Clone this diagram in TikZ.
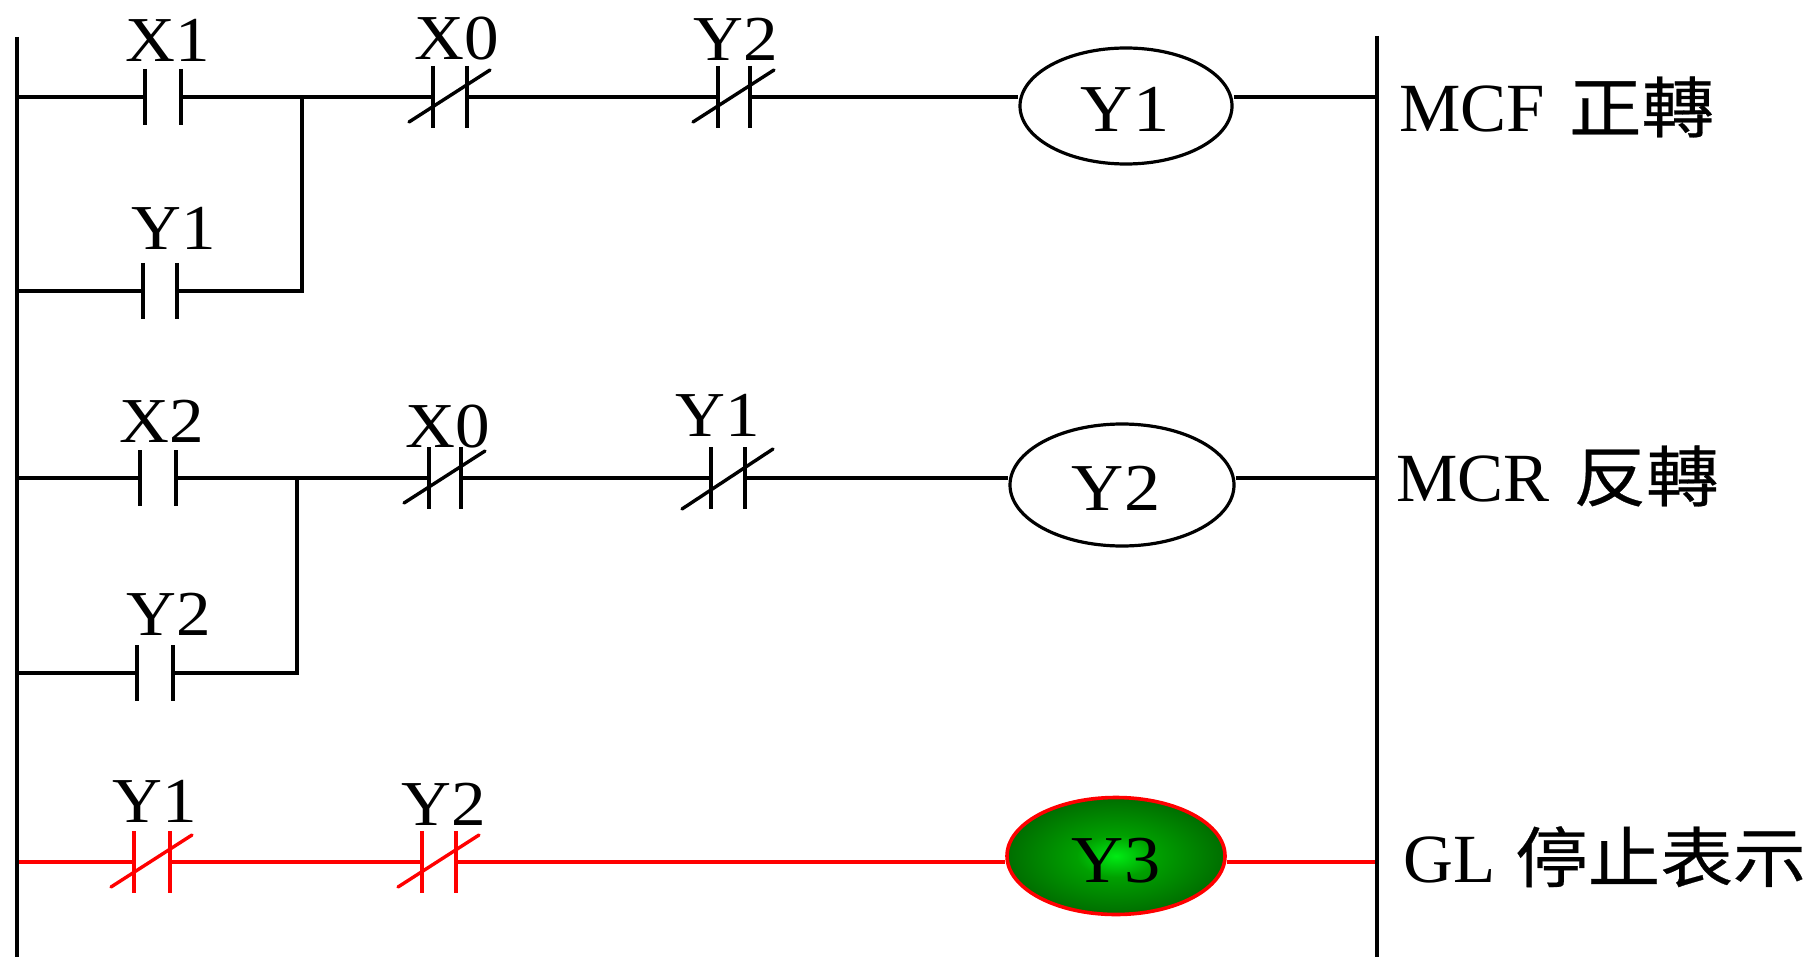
\documentclass[tikz,border=0pt]{standalone}
\usepackage{fontspec}
\setmainfont{Liberation Serif}
\newfontfamily\labfont{Liberation Serif}[FakeStretch=1.08]
\newfontfamily\cjk{Noto Sans CJK TC}[FakeStretch=1.1,FakeBold=0.4]
\usetikzlibrary{shapes.geometric}
\definecolor{glowA}{RGB}{0,235,20}
\definecolor{glowB}{RGB}{0,160,0}
\definecolor{glowC}{RGB}{0,100,0}
\definecolor{glowD}{RGB}{0,20,0}
\definecolor{rungred}{RGB}{255,0,0}
\pgfdeclareradialshading{coilglow}{\pgfpoint{0bp}{0bp}}{color(0bp)=(glowA); color(9bp)=(glowB); color(28bp)=(glowC); color(50bp)=(glowD)}
\tikzset{
  wire/.style={line width=3.4pt},
  plate/.style={line width=3.4pt},
  slash/.style={line width=3.4pt, line cap=round},
  lab/.style={font=\labfont\fontsize{64}{64}\selectfont, inner sep=0pt, anchor=base},
  coiltext/.style={font=\labfont\fontsize{67}{67}\selectfont, inner sep=0pt, anchor=base},
  side/.style={font=\fontsize{69}{69}\selectfont, inner sep=0pt, anchor=base west},
  coil/.style={ellipse, draw, line width=3.2pt, inner sep=0pt},
  pics/nocon/.style={code={
    \draw[plate] (-#1,-28) -- (-#1,28);
    \draw[plate] (#1,-28) -- (#1,28);
    \coordinate (-l) at (-#1,0);
    \coordinate (-r) at (#1,0);}},
  pics/nccon/.style={code={
    \draw[plate] (-#1,-31) -- (-#1,31);
    \draw[plate] (#1,-31) -- (#1,31);
    \draw[slash] (-41,25) -- (40,-27);
    \coordinate (-l) at (-#1,0);
    \coordinate (-r) at (#1,0);}},
  pics/ncconwide/.style={code={
    \draw[plate] (-#1,-31) -- (-#1,31);
    \draw[plate] (#1,-31) -- (#1,31);
    \draw[slash] (-46,31) -- (45,-29);
    \coordinate (-l) at (-#1,0);
    \coordinate (-r) at (#1,0);}},
}
\begin{document}
\begin{tikzpicture}[x=1pt,y=-1pt]
\useasboundingbox (0,0) rectangle (1819,957);
% rails
\coordinate (Ltop) at (17,37);
\coordinate (Lbot) at (17,957);
\coordinate (Rtop) at (1377,36);
\coordinate (Rbot) at (1377,957);

% ---------- rung 1 ----------
\pic (a1) at (163,97) {nocon=18};
\pic (a2) at (450,97) {nccon=17};
\pic (a3) at (734,97) {nccon=16};
\pic (a4) at (160,291) {nocon=17};
\node[coil, minimum width=212pt, minimum height=116pt] (Y1c) at (1126,106) {};
\coordinate (j1) at (302,97);
\draw[wire] (a1-l -| Ltop) -- (a1-l);
\draw[wire] (a1-r) -- (a2-l);
\draw[wire] (a2-r) -- (a3-l);
\draw[wire] (a3-r) -- (a3-r -| Y1c.west);
\draw[wire] (a3-r -| Y1c.east) -- (a3-r -| Rtop);
\draw[wire] (j1) |- (a4-r);
\draw[wire] (a4-l) -- (a4-l -| Ltop);
\node[lab] (tX1) at (168,62) {X1};
\node[lab] (tX0a) at (457,60) {X0};
\node[lab] (tY2a) at (736,61) {Y2};
\node[lab] (tY1b) at (174,250) {Y1};
\node[coiltext] (tY1c) at (1125,132) {Y1};
\node[side] (sMCF) at (1399,132) {MCF\hspace{24pt}{\cjk\fontsize{66}{66}\selectfont 正轉}};

% ---------- rung 2 ----------
\pic (b1) at (158,478) {nocon=18};
\pic (b2) at (445,478) {nccon=16};
\pic (b3) at (728,478) {ncconwide=17};
\pic (b4) at (155,673) {nocon=18};
\node[coil, minimum width=224pt, minimum height=122pt] (Y2c) at (1122,485) {};
\coordinate (j2) at (297,478);
\draw[wire] (b1-l -| Ltop) -- (b1-l);
\draw[wire] (b1-r) -- (b2-l);
\draw[wire] (b2-r) -- (b3-l);
\draw[wire] (b3-r) -- (b3-r -| Y2c.west);
\draw[wire] (b3-r -| Y2c.east) -- (b3-r -| Rtop);
\draw[wire] (j2) |- (b4-r);
\draw[wire] (b4-l) -- (b4-l -| Ltop);
\node[lab] (tX2) at (162,442) {X2};
\node[lab] (tX0b) at (448,447) {X0};
\node[lab] (tY1r2) at (718,436) {Y1};
\node[lab] (tY2b) at (169,635) {Y2};
\node[coiltext] (tY2c) at (1116,510) {Y2};
\node[side] (sMCR) at (1396,501) {MCR\hspace{24pt}{\cjk\fontsize{66}{66}\selectfont 反轉}};

% ---------- rung 3 (red) ----------
\begin{scope}[color=rungred]
\pic (c1) at (152,862) {nccon=18};
\pic (c2) at (439,862) {nccon=17};
\end{scope}
\node[coil, draw=rungred, line width=3.6pt, shade, shading=coilglow, minimum width=218pt, minimum height=117pt] (Y3c) at (1116,856) {};
\draw[wire, rungred, line width=4.2pt] (c1-l -| Ltop) -- (c1-l);
\draw[wire, rungred, line width=4.2pt] (c1-r) -- (c2-l);
\draw[wire, rungred, line width=4.2pt] (c2-r) -- (c2-r -| Y3c.west);
\draw[wire, rungred, line width=4.2pt] (c2-r -| Y3c.east) -- (c2-r -| Rtop);
\draw[wire] (Ltop) -- (Lbot);
\draw[wire] (Rtop) -- (Rbot);
\node[lab] (tY1d) at (155,822) {Y1};
\node[lab] (tY2d) at (444,825) {Y2};
\node[coiltext] (tY3c) at (1116,882) {Y3};
\node[side] (sGL) at (1403,882) {GL\hspace{20pt}{\cjk\fontsize{66}{66}\selectfont 停止表示}};
\end{tikzpicture}
\end{document}
